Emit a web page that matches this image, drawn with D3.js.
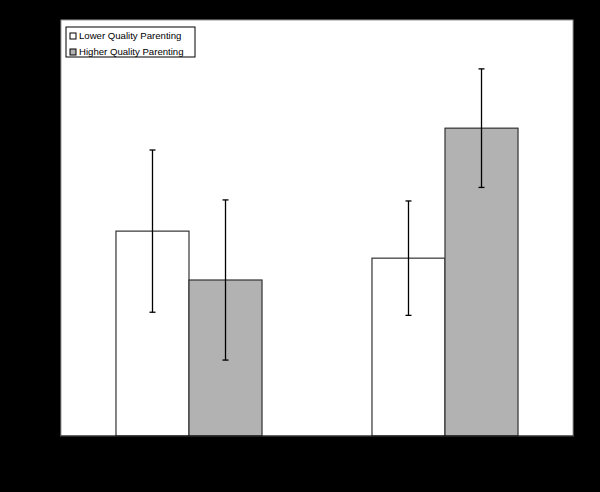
<!DOCTYPE html>
<html>
<head>
<meta charset="utf-8">
<script src="https://cdn.jsdelivr.net/npm/d3@7"></script>
<style>
body{margin:0;background:#000;}
svg{display:block;}
</style>
</head>
<body>
<div id="chart"></div>
<script>
// values (y axis is hidden, scale 0-4 assumed)
var groups = ["Group 1", "Group 2"];
var series = ["Lower Quality Parenting", "Higher Quality Parenting"];
var lowerMeans = [1.97, 1.71];
var lowerErr = [0.78, 0.55];
var higherMeans = [1.50, 2.96];
var higherErr = [0.77, 0.57];
var yTicks = [0, 1, 2, 3, 4];

var cols = ["#ffffff", "#b2b2b2"];

var width = 600, height = 492;
var margin = {top:20, right:27, bottom:56, left:61};

var svg = d3.select("#chart").append("svg")
	.attr("width", width).attr("height", height);

svg.append("rect").attr("width", width).attr("height", height).attr("fill", "#000");

var x0 = d3.scaleBand().domain(groups).range([margin.left, width - margin.right]).padding(0);
var x1 = d3.scaleBand().domain(series).range([0, x0.bandwidth()]).paddingInner(0).paddingOuter(0.753);
var y = d3.scaleLinear().domain([0, 4]).range([height - margin.bottom, margin.top]);

// axes are black on black, as in the original; drawn first so the plot area sits on top
var xAxis = svg.append("g").attr("transform", "translate(0," + y(0) + ")")
	.call(d3.axisBottom(x0).tickSize(0).tickPadding(14));
var yAxis = svg.append("g").attr("transform", "translate(" + (margin.left - 1) + ",0)")
	.call(d3.axisLeft(y).tickValues(yTicks).tickSize(5));
[xAxis, yAxis].forEach(function(a){
	a.selectAll("path,line").attr("stroke", "#000");
	a.selectAll("text").attr("fill", "#000").style("font-family", "Liberation Sans, Arial").style("font-size", "12px");
});

//plot area
svg.append("rect")
	.attr("x", margin.left).attr("y", margin.top)
	.attr("width", width - margin.left - margin.right)
	.attr("height", height - margin.top - margin.bottom)
	.attr("fill", "#fff")
	.attr("stroke", "#999")
	.attr("stroke-width", 1);

var dat = groups.map(function(g, i){
	return [
		{group:g, s:series[0], val:lowerMeans[i], err:lowerErr[i], col:cols[0]},
		{group:g, s:series[1], val:higherMeans[i], err:higherErr[i], col:cols[1]}
	];
});

var gs = svg.selectAll("g.grp").data(dat).enter().append("g")
	.attr("class", "grp")
	.attr("transform", function(d){ return "translate(" + x0(d[0].group) + ",0)"; });

gs.selectAll("rect").data(function(d){ return d; }).enter().append("rect")
	.attr("x", function(d){ return x1(d.s); })
	.attr("y", function(d){ return y(d.val); })
	.attr("width", x1.bandwidth())
	.attr("height", function(d){ return y(0) - y(d.val); })
	.attr("fill", function(d){ return d.col; })
	.attr("stroke", "#333")
	.attr("stroke-width", 1.2);

var eb = gs.selectAll("g.err").data(function(d){ return d; }).enter().append("g")
	.attr("class", "err")
	.attr("stroke", "#000")
	.attr("stroke-width", 1.3);
var cx = function(d){ return x1(d.s) + x1.bandwidth()/2; };
eb.append("line")
	.attr("x1", cx).attr("x2", cx)
	.attr("y1", function(d){ return y(d.val + d.err); })
	.attr("y2", function(d){ return y(d.val - d.err); });
eb.append("line")
	.attr("x1", function(d){ return cx(d) - 3; }).attr("x2", function(d){ return cx(d) + 3; })
	.attr("y1", function(d){ return y(d.val + d.err); })
	.attr("y2", function(d){ return y(d.val + d.err); });
eb.append("line")
	.attr("x1", function(d){ return cx(d) - 3; }).attr("x2", function(d){ return cx(d) + 3; })
	.attr("y1", function(d){ return y(d.val - d.err); })
	.attr("y2", function(d){ return y(d.val - d.err); });

// baseline
svg.append("line")
	.attr("x1", margin.left).attr("x2", width - margin.right)
	.attr("y1", y(0)).attr("y2", y(0))
	.attr("stroke", "#000").attr("stroke-width", 1);

//legend
var leg = svg.append("g").attr("transform", "translate(66,27)");
leg.append("rect").attr("width", 129).attr("height", 30)
	.attr("fill", "#fff").attr("stroke", "#000").attr("stroke-width", 1);
var items = leg.selectAll("g.item").data(series).enter().append("g")
	.attr("class", "item")
	.attr("transform", function(d, i){ return "translate(0," + (9 + i*16) + ")"; });
items.append("rect").attr("x", 4).attr("y", -3).attr("width", 6).attr("height", 6)
	.attr("fill", function(d, i){ return cols[i]; })
	.attr("stroke", "#000").attr("stroke-width", 1);
items.append("text").attr("x", 13).attr("y", 0).attr("dy", "0.35em")
	.text(function(d){ return d; })
	.style("font-family", "Liberation Sans, Arial")
	.style("font-size", "9.6px")
	.attr("fill", "#000");
</script>
</body>
</html>
